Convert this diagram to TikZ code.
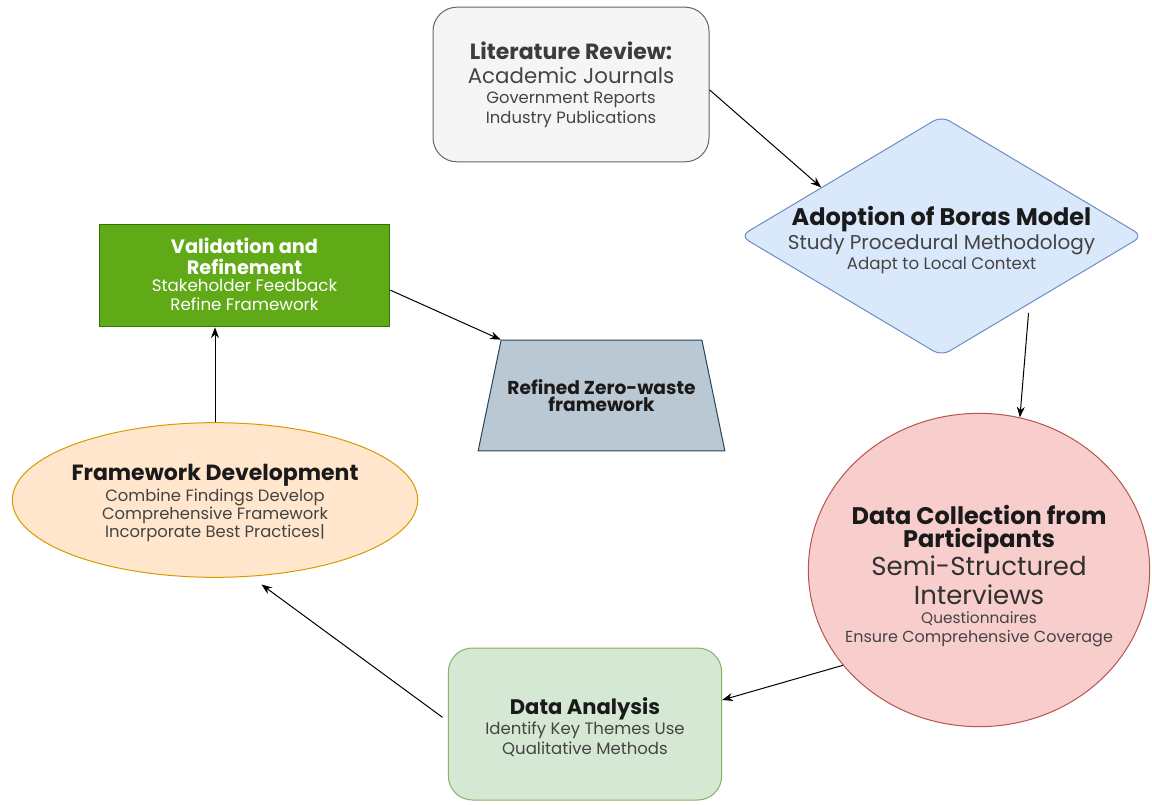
\documentclass[tikz,border=0pt]{standalone}
\usepackage{fontspec}
\setmainfont{Poppins}
\usetikzlibrary{shapes.geometric,arrows.meta}

\definecolor{litfill}{HTML}{F5F5F5}\definecolor{litline}{HTML}{666666}
\definecolor{bluefill}{HTML}{DAE8FC}\definecolor{blueline}{HTML}{6C8EBF}
\definecolor{grnfill}{HTML}{60A917}\definecolor{grnline}{HTML}{2D7600}
\definecolor{slatefill}{HTML}{BAC8D3}\definecolor{slateline}{HTML}{23445D}
\definecolor{orgfill}{HTML}{FFE6CC}\definecolor{orgline}{HTML}{D79B00}
\definecolor{redfill}{HTML}{F8CECC}\definecolor{redline}{HTML}{B85450}
\definecolor{mintfill}{HTML}{D5E8D4}\definecolor{mintline}{HTML}{82B366}
\definecolor{ink}{HTML}{1A1A1A}\definecolor{soft}{HTML}{444444}

% font size helper: size in pt, fixed line spacing
\newcommand\fz[1]{\fontsize{#1pt}{15pt}\selectfont}
% keep baselines evenly spaced regardless of glyph size
\lineskiplimit=-50pt

\tikzset{
  shapebox/.style={line width=0.75pt, inner sep=0pt},
  txt/.style={align=center, inner sep=0pt, font=\fz{11}},
  flow/.style={line width=0.75pt, -{Stealth[length=8pt,width=6pt]}},
}

\begin{document}
\begin{tikzpicture}[x=0.75pt,y=-0.75pt]
\useasboundingbox (0,0) rectangle (1152,805);

% ---- shapes ----
\node[shapebox, draw=litline, fill=litfill, rectangle, rounded corners=18pt,
      minimum width=207pt, minimum height=116pt] (litrev) at (571,84.5) {};
\node[shapebox, draw=blueline, fill=bluefill, diamond, rounded corners=7pt,
      minimum width=302pt, minimum height=180pt] (adopt) at (941.5,236) {};
\node[shapebox, draw=grnline, fill=grnfill, rectangle,
      minimum width=218pt, minimum height=77pt] (valid) at (244.5,275.5) {};
\node[shapebox, draw=slateline, fill=slatefill, trapezium, trapezium stretches body=true,
      trapezium angle=62, minimum width=185pt, minimum height=83pt, inner sep=4pt,
      align=center, text=ink, font=\fontsize{14pt}{13pt}\selectfont\bfseries]
      (refined) at (601.5,395.5) {Refined Zero-waste\\framework};
\node[shapebox, draw=orgline, fill=orgfill, ellipse,
      minimum width=304pt, minimum height=116pt] (framework) at (215,500) {};
\node[shapebox, draw=redline, fill=redfill, ellipse,
      minimum width=256pt, minimum height=235pt] (datacol) at (979,570) {};
\node[shapebox, draw=mintline, fill=mintfill, rectangle, rounded corners=18pt,
      minimum width=205pt, minimum height=114pt] (analysis) at (585,724) {};

% ---- labels ----
\node[txt, text=soft] (litrevtxt) at (571,85)
  {{\fz{16.5}\bfseries\color{ink!85}Literature Review:}\\[3pt]
   {\fz{16}Academic Journals}\\
   {\fz{12.3}Government Reports}\\
   {\fz{12.3}Industry Publications}};

\node[txt, text=soft] (adopttxt) at (941.5,240)
  {{\fz{18}\bfseries\color{ink}Adoption of Boras Model}\\[3pt]
   {\fz{15}Study Procedural Methodology}\\
   {\fz{12.5}Adapt to Local Context}};

\node[txt, text=white, font=\fontsize{11pt}{13.5pt}\selectfont] (validtxt) at (244.5,274)
  {{\fz{14.5}\bfseries Validation and}\\[2pt]
   {\fz{14.5}\bfseries Refinement}\\
   {\fz{12.5}Stakeholder Feedback}\\
   {\fz{12.5}Refine Framework}};

\node[txt, text=soft, font=\fontsize{11pt}{13.5pt}\selectfont] (frameworktxt) at (215,503)
  {{\fz{16.5}\bfseries\color{ink}Framework Development}\\[2pt]
   {\fz{12.3}Combine Findings Develop}\\
   {\fz{12.3}Comprehensive Framework}\\
   {\fz{12.3}Incorporate Best Practices|}};

\node[txt, text=ink, font=\fontsize{11pt}{19pt}\selectfont] (datacoltxt) at (979,576)
  {{\fz{18}\bfseries Data Collection from}\\[-2pt]
   {\fz{18}\bfseries Participants}\\[2.5pt]
   {\fz{19.5}\color{ink!90}Semi-Structured}\\[2.5pt]
   {\fz{19.5}\color{ink!90}Interviews}\\[-4.5pt]
   {\fz{11.5}\color{soft}Questionnaires}\\[-5pt]
   {\fz{12}\color{soft}Ensure Comprehensive Coverage}};

\node[txt, text=soft] (analysistxt) at (585,727)
  {{\fz{15.8}\bfseries\color{ink}Data Analysis}\\[0pt]
   {\fz{12.4}Identify Key Themes Use}\\
   {\fz{12.4}Qualitative Methods}};

% ---- connectors ----
\draw[flow] ([yshift=-4pt]litrev.east) -- (adopt.158);
\draw[flow] ([shift={(-3pt,-8pt)}]adopt.-36) -- (datacol.75);
\draw[flow] (datacol.215) -- ([yshift=18pt]analysis.east);
\draw[flow, shorten >=10pt] ([shift={(-4pt,5pt)}]analysis.west) -- (framework.-65);
\draw[flow] (framework.north) -- (framework.north |- valid.south);
\draw[flow] ([yshift=-11pt]valid.east) -- (refined.top left corner);
\end{tikzpicture}
\end{document}
